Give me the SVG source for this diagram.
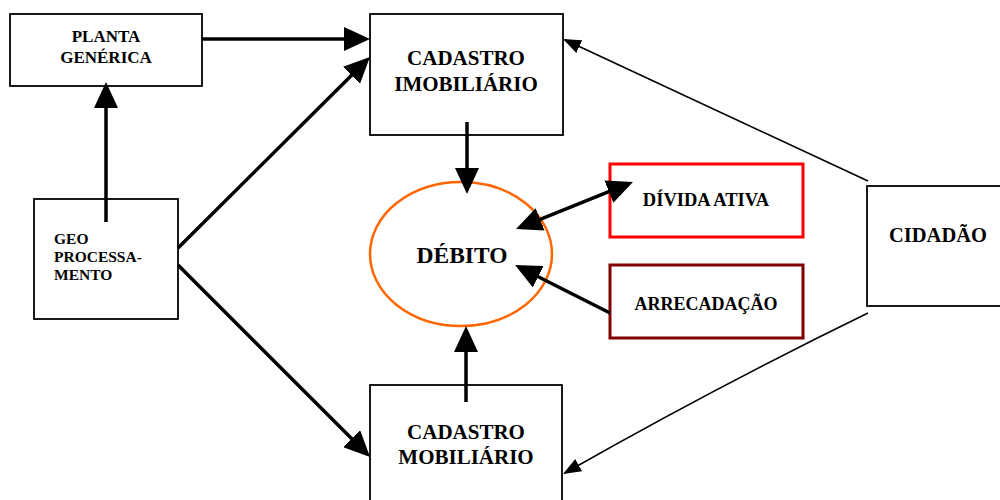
<svg xmlns="http://www.w3.org/2000/svg" width="1000" height="500" viewBox="0 0 1000 500">
<style>
.box{fill:#fff;stroke:#000;stroke-width:1.8}
.t{font-family:"Liberation Serif","Times New Roman",serif;font-weight:bold;fill:#000}
.c{text-anchor:middle}
.thick{fill:none;stroke:#000;stroke-width:3.5}
.thin{fill:none;stroke:#000;stroke-width:1.6}
</style>
<defs>
<marker id="ah" markerWidth="26" markerHeight="24" refX="20" refY="12" orient="auto-start-reverse" markerUnits="userSpaceOnUse"><path d="M0,0 L26,12 L0,24 z" fill="#000"/></marker>
<marker id="ahs" markerWidth="18" markerHeight="14" refX="16" refY="7" orient="auto" markerUnits="userSpaceOnUse"><path d="M0,0 L18,7 L0,14 z" fill="#000"/></marker>
</defs>
<rect width="1000" height="500" fill="#fff"/>
<g id="planta">
<rect class="box" x="10" y="14" width="192" height="72"/>
<text class="t c" x="106" y="42" font-size="17">PLANTA</text>
<text class="t c" x="106" y="63" font-size="17">GENÉRICA</text>
</g>
<g id="cadastro-imobiliario">
<rect class="box" x="370" y="14" width="193" height="121"/>
<text class="t c" x="466" y="65" font-size="21">CADASTRO</text>
<text class="t c" x="466" y="91" font-size="21">IMOBILIÁRIO</text>
</g>
<g id="geo">
<rect class="box" x="34" y="199" width="144" height="120"/>
<text class="t" x="54" y="244" font-size="15.5">GEO</text>
<text class="t" x="54" y="262" font-size="15.5">PROCESSA-</text>
<text class="t" x="54" y="280" font-size="15.5">MENTO</text>
</g>
<g id="debito">
<ellipse cx="461" cy="254" rx="91" ry="72" fill="#fff" stroke="#FF6600" stroke-width="2.5"/>
<text class="t c" x="462" y="263" font-size="23.5">DÉBITO</text>
</g>
<g id="divida-ativa">
<rect x="610" y="164" width="193" height="73" fill="#fff" stroke="#FF0000" stroke-width="3"/>
<text class="t c" x="706" y="206" font-size="18.5">DÍVIDA ATIVA</text>
</g>
<g id="arrecadacao">
<rect x="610" y="265" width="193" height="73" fill="#fff" stroke="#800000" stroke-width="3"/>
<text class="t c" x="706" y="310" font-size="18">ARRECADAÇÃO</text>
</g>
<g id="cadastro-mobiliario">
<rect class="box" x="370" y="385" width="192" height="130"/>
<text class="t c" x="466" y="439" font-size="21">CADASTRO</text>
<text class="t c" x="466" y="464" font-size="21">MOBILIÁRIO</text>
</g>
<g id="cidadao">
<rect class="box" x="867" y="186" width="140" height="120"/>
<text class="t c" x="938" y="242" font-size="20.5">CIDADÃO</text>
</g>
<g id="connectors">
<path class="thick" d="M202,39 L364,39" marker-end="url(#ah)"/>
<path class="thick" d="M106,222 L106,88" marker-end="url(#ah)"/>
<path class="thick" d="M178,248 L365.7,61.2" marker-end="url(#ah)"/>
<path class="thick" d="M178,265 L365.8,452.8" marker-end="url(#ah)"/>
<path class="thick" d="M467,122 L467,188" marker-end="url(#ah)"/>
<path class="thick" d="M466,402 L466,332" marker-end="url(#ah)"/>
<path class="thick" d="M521.6,226.8 L627.4,184.2" marker-start="url(#ah)" marker-end="url(#ah)"/>
<path class="thick" d="M610,313 L520.4,267.7" marker-end="url(#ah)"/>
<path class="thin" d="M868,181 L564.8,39.8" marker-end="url(#ahs)"/>
<path class="thin" d="M868,313 Q716,387 564.8,473" marker-end="url(#ahs)"/>
</g>
</svg>
